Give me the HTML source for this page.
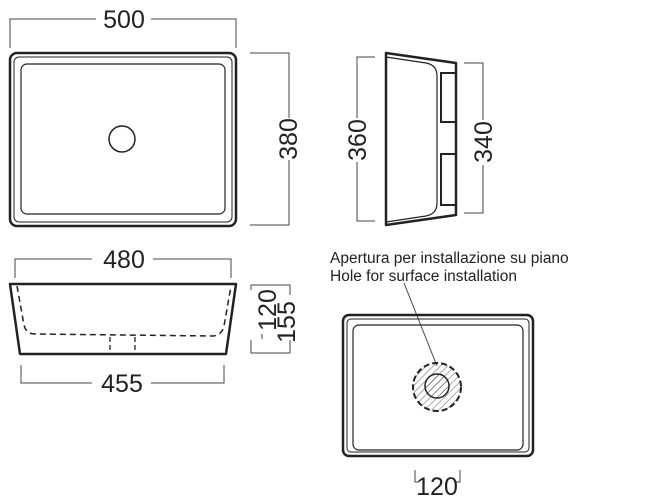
<!DOCTYPE html>
<html><head><style>body{margin:0;background:#fff}svg{display:block}</style></head><body>
<svg width="650" height="500" viewBox="0 0 650 500" xmlns="http://www.w3.org/2000/svg" font-family="Liberation Sans, sans-serif" fill="none" stroke="#222">
<defs>
<pattern id="h" width="5" height="5" patternUnits="userSpaceOnUse" patternTransform="rotate(45)"><line x1="0" y1="0" x2="0" y2="5" stroke="#333" stroke-width="0.8"/></pattern>
</defs>
<rect x="10" y="53" width="226" height="173" rx="7" stroke-width="2.5"/>
<rect x="14" y="57" width="218" height="165" rx="5" stroke-width="1"/>
<rect x="21" y="64" width="204" height="150" rx="6" stroke-width="1.2"/>
<circle cx="122" cy="139" r="13" stroke-width="1.5"/>
<g stroke-width="1" stroke="#444">
<path d="M10 48V19H96M151 19H236V48"/>
<path d="M250 53H289V118M289 160V225H250"/>
<path d="M375 57H357V118M357 162V221H375"/>
<path d="M464 63H483V120M483 165V213H464"/>
<path d="M15 278V259H92M153 259H231V278"/>
<path d="M21 365V383H92M151 383H224V365"/>
<path d="M251 290V285H290V295M251 340V353H290V340M262 334V339"/>
<path d="M404 283L437 366"/>
<path d="M415 470V482H419M460 470V482H456"/>
</g>
<g fill="#222" stroke="none" font-size="25">
<text x="124" y="28" text-anchor="middle">500</text>
<text x="124" y="268" text-anchor="middle">480</text>
<text x="122" y="392" text-anchor="middle">455</text>
<text transform="translate(297,139) rotate(-90)" text-anchor="middle">380</text>
<text transform="translate(366,140) rotate(-90)" text-anchor="middle">360</text>
<text transform="translate(492,142) rotate(-90)" text-anchor="middle">340</text>
<text transform="translate(276,310) rotate(-90)" text-anchor="middle">120</text>
<text transform="translate(295,322) rotate(-90)" text-anchor="middle">155</text>
<text x="437" y="495" text-anchor="middle">120</text>
<text x="330" y="263" font-size="15.5">Apertura per installazione su piano</text>
<text x="330" y="281" font-size="15.5">Hole for surface installation</text>
</g>
<path d="M386 53L456 63V215L386 225Z" stroke-width="2.5" stroke-linejoin="round"/>
<path d="M386 57L426 63Q437 65 437 76V203Q437 214 426 216L386 222" stroke-width="1.2"/>
<path d="M456 73H441V122H456M456 154H441V205H456" stroke-width="2"/>
<path d="M10 284H236L226 354H20Z" stroke-width="2.5" stroke-linejoin="round"/>
<path d="M17 286L24 325Q26 334 35 334L213 336Q222 335 224 326L231 286" stroke-width="1.5" stroke-dasharray="6 4"/>
<path d="M110 337V354M135 337V354" stroke-width="1.3" stroke-dasharray="5 3"/>
<rect x="343" y="315" width="190" height="141" rx="6" stroke-width="2.5"/>
<rect x="347" y="319" width="182" height="133" rx="4" stroke-width="1"/>
<rect x="353" y="325" width="170" height="125" rx="6" stroke-width="1.2"/>
<circle cx="437" cy="387" r="24" fill="url(#h)" stroke-width="2" stroke-dasharray="6 3"/>
<circle cx="437" cy="386" r="12" fill="url(#h)" stroke-width="1.5"/>
</svg>
</body></html>
